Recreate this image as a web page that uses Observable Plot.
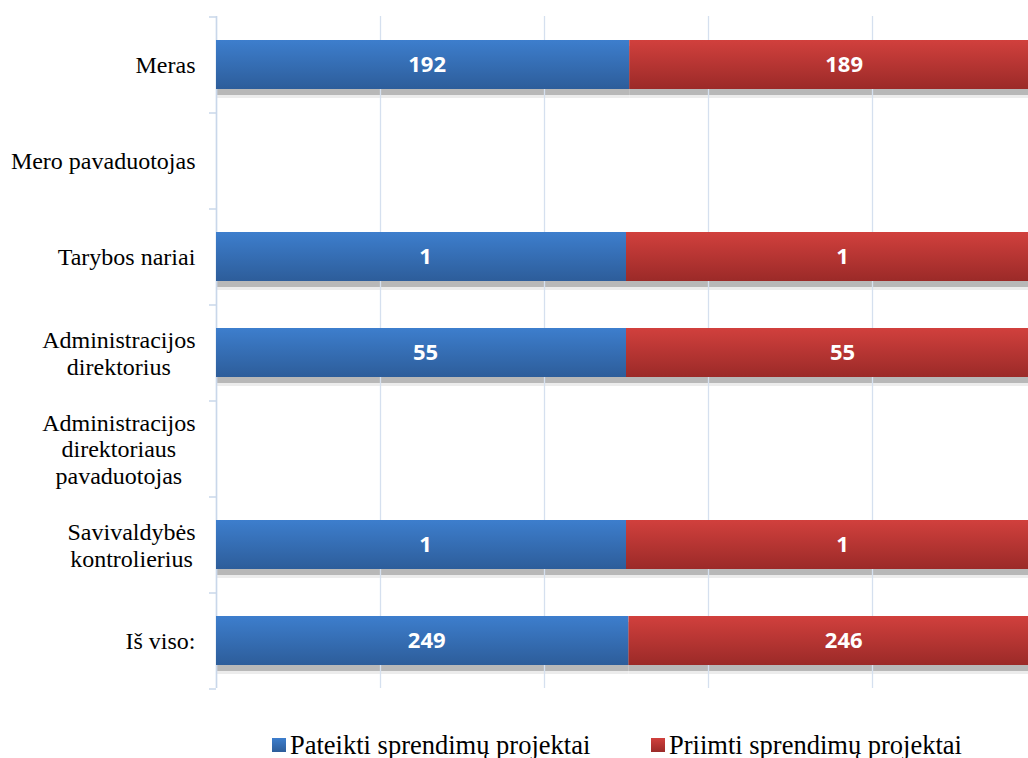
<!DOCTYPE html>
<html><head><meta charset="utf-8">
<script src="https://cdn.jsdelivr.net/npm/d3@7"></script>
<script src="https://cdn.jsdelivr.net/npm/@observablehq/plot@0.6"></script>
<style>
body{margin:0;background:#fff;width:1028px;height:758px;overflow:hidden;}
#chart svg{display:block;overflow:visible;}
#legend{position:relative;height:58px;font-family:"Liberation Serif","Times New Roman",serif;font-size:26.5px;color:#000;}
.item{position:absolute;top:30px;height:30px;display:flex;align-items:center;white-space:nowrap;}
.sw{width:14px;height:14px;margin-right:4px;flex:none;}
</style></head><body><div id="chart"></div><div id="legend"></div>
<script>
const categories = ["Meras","Mero pavaduotojas","Tarybos nariai","Administracijos direktorius","Administracijos direktoriaus pavaduotojas","Savivaldybės kontrolierius","Iš viso:"];
const categoryLabels = ["Meras","Mero pavaduotojas","Tarybos nariai","Administracijos\ndirektorius","Administracijos\ndirektoriaus\npavaduotojas","Savivaldybės\nkontrolierius","Iš viso:"];
const seriesNames = ["Pateikti sprendimų projektai","Priimti sprendimų projektai"];
const pateikti = [192,0,1,55,0,1,249];
const priimti = [189,0,1,55,0,1,246];
const xTicks = [0,0.2,0.4,0.6,0.8,1];

const data = categories.flatMap((c,i)=>[
  {cat:c, series:seriesNames[0], value:pateikti[i]},
  {cat:c, series:seriesNames[1], value:priimti[i]}
]);

const st = (o) => Plot.stackX({x:"value", y:"cat", z:"series", offset:"normalize", ...o});
const gridColor = "#d5e0ef";

const chart = Plot.plot({
  width:1028, height:700,
  marginLeft:216, marginRight:0, marginTop:16, marginBottom:12,
  style:{background:"#fff", color:"#000"},
  x:{domain:[0,1], range:[216,1036], axis:null},
  y:{domain:categories, paddingInner:0.49, paddingOuter:0.245, axis:null},
  color:{domain:seriesNames, range:["url(#gBlue)","url(#gRed)"]},
  marks:[
    Plot.barX(data, st({fill:"#ececec", dy:9})),
    Plot.barX(data, st({fill:"#b8b8b8", dy:6})),
    Plot.gridX(xTicks, {stroke:gridColor, strokeOpacity:1, strokeWidth:1.3}),
    Plot.ruleX([0], {stroke:"#c9d7ea", strokeWidth:1.5}),
    Plot.ruleY(categories, {x1:-7/820, x2:0, dy:-48, stroke:"#c9d7ea", strokeWidth:1.5}),
    Plot.ruleY([categories[categories.length-1]], {x1:-7/820, x2:0, dy:48, stroke:"#c9d7ea", strokeWidth:1.5}),
    Plot.barX(data, st({fill:"series"})),
    Plot.text(data, st({text:d=>d.series===seriesNames[0] && d.value ? String(d.value) : null, fill:"white", fontWeight:"bold", fontSize:22, fontFamily:"Open Sans", dx:4})),
    Plot.text(data, st({text:d=>d.series===seriesNames[1] && d.value ? String(d.value) : null, fill:"white", fontWeight:"bold", fontSize:22, fontFamily:"Open Sans", dx:11})),
    Plot.axisY({label:null, tickSize:0, tickPadding:21, tickFormat:d=>categoryLabels[categories.indexOf(d)], fontSize:24, fontFamily:"Liberation Serif", lineHeight:1.1, fill:"#000"})
  ]
});
document.getElementById("chart").appendChild(chart);

const defs = d3.select(chart).insert("defs", ":first-child");
function grad(id, c1, c2){
  const g = defs.append("linearGradient").attr("id", id).attr("x1",0).attr("y1",0).attr("x2",0).attr("y2",1);
  g.append("stop").attr("offset","0%").attr("stop-color",c1);
  g.append("stop").attr("offset","100%").attr("stop-color",c2);
}
grad("gBlue", "#3d7ecd", "#2d5d9a");
grad("gRed", "#d1403d", "#9b2a28");

// center lines of multi-line labels within their right-aligned block
d3.select(chart).selectAll('g[aria-label="y-axis tick label"] text').each(function(){
  const w = this.getBBox().width;
  this.setAttribute("text-anchor","middle");
  const ts = this.querySelectorAll("tspan");
  if (ts.length) ts.forEach(t=>t.setAttribute("x", -w/2));
  else this.setAttribute("x", -w/2 + (+this.getAttribute("x")||0) );
});

const legend = document.getElementById("legend");
const lg = [["#3d7ecd","#2d5d9a",272],["#d1403d","#9b2a28",651]];
seriesNames.forEach((s,i)=>{
  const it = document.createElement("div");
  it.className="item"; it.style.left = lg[i][2]+"px";
  it.innerHTML = `<span class="sw" style="background:linear-gradient(${lg[i][0]},${lg[i][1]})"></span><span>${s}</span>`;
  legend.appendChild(it);
});
</script></body></html>
